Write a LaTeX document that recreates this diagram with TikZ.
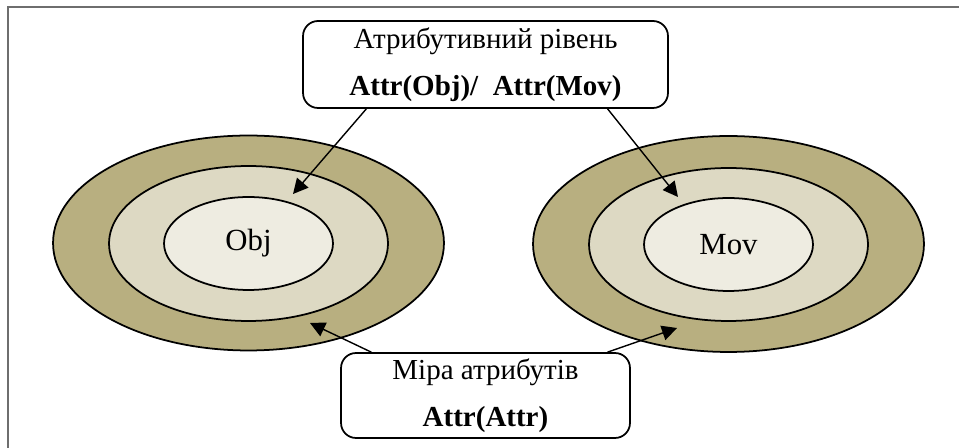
\documentclass[tikz,border=0pt]{standalone}
\usepackage{fontspec}
\setmainfont{Liberation Serif}
\usetikzlibrary{shapes.geometric,arrows.meta,calc}

\definecolor{outerTan}{HTML}{B8AF80}
\definecolor{midTan}{HTML}{DDD9C3}
\definecolor{innerTan}{HTML}{EEECE1}
\definecolor{frameGray}{HTML}{6E6E6E}

\tikzset{
  ring/.style={ellipse, draw, line width=1pt, inner sep=0pt},
  labelbox/.style={draw, line width=1pt, rounded corners=0.3cm, align=center,
    inner sep=0pt, font=\fontsize{16.5}{26.5}\selectfont},
  pointer/.style={line width=0.8pt, -{Triangle[length=0.3cm,width=0.3cm]}}
}

\begin{document}
\begin{tikzpicture}[x=0.02cm, y=-0.02cm]
\useasboundingbox (0,0) rectangle (959,448);

% frame
\draw[frameGray, line width=1.1pt] (8,448) -- (8,7) -- (959,7);

% left rings
\node (objOuter) at (248.5,243) [ring, fill=outerTan, minimum width=7.82cm, minimum height=4.3cm] {};
\node (objMid) at (248.5,243.5) [ring, fill=midTan, minimum width=5.58cm, minimum height=3.1cm] {};
\node (obj) at (248.5,243.5) [ring, fill=innerTan, minimum width=3.38cm, minimum height=1.86cm, font=\fontsize{17.5}{20}\selectfont] {Obj};

% right rings
\node (movOuter) at (728.5,244) [ring, fill=outerTan, minimum width=7.82cm, minimum height=4.32cm] {};
\node (movMid) at (728.5,244.5) [ring, fill=midTan, minimum width=5.58cm, minimum height=3.06cm] {};
\node (mov) at (728.5,244.5) [ring, fill=innerTan, minimum width=3.38cm, minimum height=1.86cm, font=\fontsize{17.5}{20}\selectfont] {Mov};

% label boxes
\node (attrbox) at (485.5,64.5) [labelbox, minimum width=7.3cm, minimum height=1.74cm]
  {Атрибутивний рівень\\\textbf{Attr(Obj)/\ \ Attr(Mov)}};
\node (measbox) at (485.5,395.5) [labelbox, minimum width=5.78cm, minimum height=1.7cm]
  {Міра атрибутів\\\textbf{Attr(Attr)}};

% arrow tips
\coordinate (tipObjMid) at (293,194);
\coordinate (tipMovMid) at (678,197);
\coordinate (tipObjOuter) at (310,323);
\coordinate (tipMovOuter) at (677,328);

\draw[pointer] ($(attrbox.south west)!0.175!(attrbox.south east)$) -- (tipObjMid);
\draw[pointer] ($(attrbox.south west)!0.833!(attrbox.south east)$) -- (tipMovMid);
\draw[pointer] ($(measbox.north west)!0.107!(measbox.north east)$) -- (tipObjOuter);
\draw[pointer] ($(measbox.north west)!0.92!(measbox.north east)$) -- (tipMovOuter);

\end{tikzpicture}
\end{document}
